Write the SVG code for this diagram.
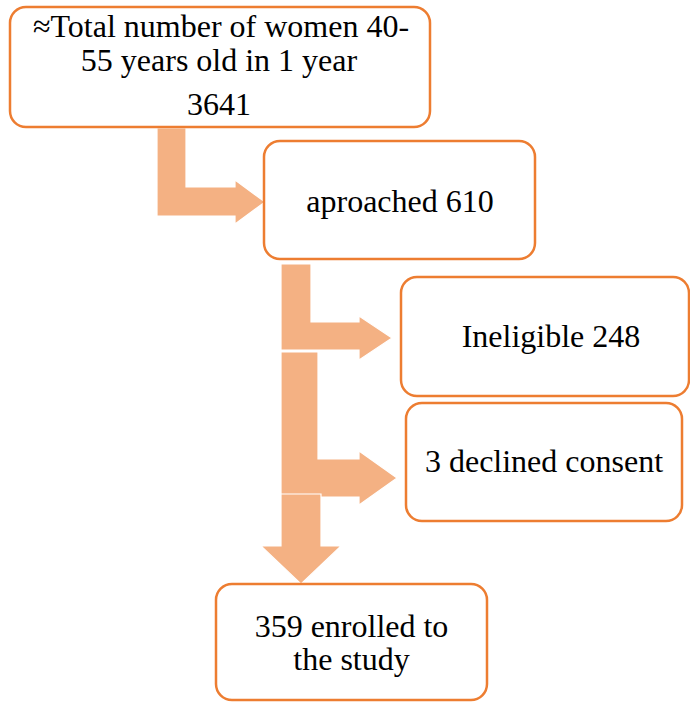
<svg xmlns="http://www.w3.org/2000/svg" width="690" height="702" viewBox="0 0 690 702">
<style>
.box{fill:#fff;stroke:#ED7D31;stroke-width:2.5}
.arr{fill:#F4B183;stroke:#fff;stroke-width:1.2}
text{font-family:"Liberation Serif","Times New Roman",serif;font-size:32px;fill:#000;text-anchor:middle}
</style>
<rect width="690" height="702" fill="#fff"/>
<g id="connectors">
<polygon class="arr" points="157,128 186,128 186,187 235,187 235,180 265,202 235,224 235,216 157,216"/>
<polygon class="arr" points="281,264 311,264 311,322 359,322 359,316 392,338 359,360 359,350 281,350"/>
<polygon class="arr" points="281,352 318,352 318,459 359,459 359,451 397,478 359,505 359,497 281,497"/>
<polygon class="arr" points="281,494 321,494 321,546 341,546 301,584 261,546 281,546"/>
</g>
<g id="total">
<rect class="box" x="10" y="7" width="420" height="120" rx="16"/>
<text x="221" y="37">≈Total number of women 40-</text>
<text x="219" y="71">55 years old in 1 year</text>
<text x="219" y="115">3641</text>
</g>
<g id="approached">
<rect class="box" x="264" y="141" width="271" height="118" rx="16"/>
<text x="400" y="212">aproached 610</text>
</g>
<g id="ineligible">
<rect class="box" x="401" y="277" width="288" height="119" rx="16"/>
<text x="551" y="347">Ineligible 248</text>
</g>
<g id="declined">
<rect class="box" x="406" y="403" width="276" height="118" rx="16"/>
<text x="544" y="472">3 declined consent</text>
</g>
<g id="enrolled">
<rect class="box" x="216" y="584" width="271" height="116" rx="16"/>
<text x="351.5" y="637">359 enrolled to</text>
<text x="351.5" y="670">the study</text>
</g>
</svg>
